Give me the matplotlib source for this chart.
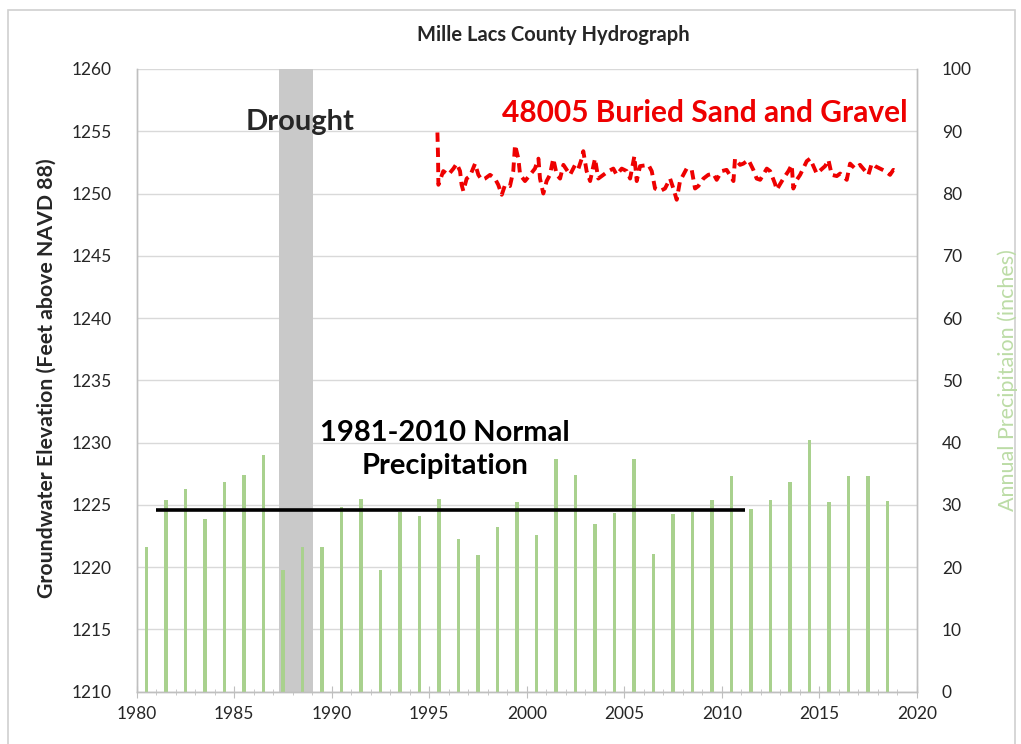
import numpy as np
import matplotlib
matplotlib.use('Agg')
import matplotlib.pyplot as plt
from matplotlib.patches import Rectangle
from matplotlib.ticker import MultipleLocator

plt.rcParams['font.family'] = ['Lato', 'DejaVu Sans']

# annual precipitation (inches), one bar per year plotted mid-year
precip_years = np.arange(1980, 2019)
precip = [23.3, 30.8, 32.5, 27.8, 33.7, 34.8, 38.0, 19.6, 23.3, 23.2,
          29.7, 30.9, 19.5, 28.8, 28.2, 30.9, 24.5, 21.9, 26.5, 30.4,
          25.2, 37.3, 34.8, 26.9, 28.7, 37.4, 22.1, 28.5, 28.8, 30.8,
          34.7, 29.3, 30.8, 33.7, 40.4, 30.4, 34.6, 34.6, 30.7]

# well 48005 water levels (ft above NAVD 88)
well_dates = [1995.42, 1995.45, 1995.47, 1995.72, 1995.98, 1996.24, 1996.41, 1996.58, 1996.66, 1996.75,
              1996.92, 1997.09, 1997.35, 1997.52, 1997.69, 1997.86, 1998.12, 1998.37, 1998.54, 1998.72,
              1998.89, 1999.14, 1999.31, 1999.40, 1999.57, 1999.66, 1999.91, 2000.17, 2000.42, 2000.60,
              2000.68, 2000.85, 2001.02, 2001.19, 2001.36, 2001.54, 2001.71, 2001.88, 2002.05, 2002.22,
              2002.48, 2002.65, 2002.82, 2002.90, 2003.07, 2003.25, 2003.50, 2003.67, 2003.93, 2004.19,
              2004.44, 2004.61, 2004.87, 2005.13, 2005.30, 2005.52, 2005.64, 2005.81, 2006.24, 2006.41,
              2006.58, 2006.84, 2007.09, 2007.35, 2007.52, 2007.69, 2007.86, 2008.20, 2008.46, 2008.63,
              2008.80, 2009.06, 2009.31, 2009.57, 2009.74, 2010.00, 2010.25, 2010.60, 2010.68, 2010.94,
              2011.11, 2011.37, 2011.62, 2011.79, 2011.97, 2012.31, 2012.48, 2012.73, 2012.82, 2013.16,
              2013.42, 2013.59, 2013.67, 2013.85, 2014.02, 2014.36, 2014.53, 2014.70, 2014.87, 2015.30,
              2015.47, 2015.64, 2015.90, 2016.07, 2016.41, 2016.58, 2016.84, 2017.09, 2017.52, 2017.69,
              2017.86, 2018.12, 2018.38, 2018.63, 2018.80, 2018.97]
well_levels = [1254.9, 1253.1, 1250.7, 1251.8, 1251.5, 1252.0, 1252.4, 1251.8, 1250.7, 1250.2,
               1251.2, 1251.4, 1252.4, 1251.5, 1251.1, 1251.2, 1251.5, 1251.2, 1250.7, 1249.9,
               1250.7, 1250.6, 1251.8, 1253.9, 1252.8, 1251.5, 1251.0, 1251.5, 1252.0, 1252.8,
               1251.2, 1250.0, 1251.0, 1251.5, 1252.8, 1251.5, 1251.2, 1252.3, 1251.9, 1251.5,
               1252.3, 1252.0, 1252.8, 1253.4, 1251.8, 1251.0, 1252.8, 1251.2, 1251.5, 1251.8,
               1252.0, 1251.5, 1252.0, 1251.8, 1251.2, 1253.0, 1251.0, 1252.2, 1252.3, 1251.8,
               1250.4, 1250.2, 1250.4, 1251.2, 1250.4, 1249.5, 1251.0, 1252.0, 1251.9, 1250.4,
               1250.6, 1251.2, 1251.5, 1251.6, 1251.1, 1251.8, 1251.9, 1251.0, 1252.8, 1252.3,
               1252.4, 1252.7, 1251.9, 1251.2, 1251.1, 1252.0, 1251.8, 1250.8, 1250.3, 1251.2,
               1251.8, 1252.3, 1250.4, 1251.1, 1251.5, 1252.6, 1252.8, 1252.2, 1251.6, 1252.2,
               1252.7, 1251.5, 1251.4, 1251.6, 1251.1, 1252.4, 1252.0, 1252.3, 1251.5, 1252.4,
               1252.2, 1252.0, 1251.8, 1251.5, 1251.9, 1251.8]

normal_period = [1981, 2011.2]
normal_precip = 29.1
drought_period = [1987.3, 1989.05]

green = '#a9d18e'
grid_gray = '#d9d9d9'
spine_gray = '#bfbfbf'
text_col = '#262626'

fig = plt.figure(figsize=(10.21, 7.44), dpi=100)
ax = fig.add_axes([0.1339, 0.0703, 0.7640, 0.8370])
ax2 = ax.twinx()

# chart border
fig.patches.append(Rectangle((0.008, -0.01), 0.986, 0.997, transform=fig.transFigure,
                             fill=False, edgecolor='#d0d0d0', linewidth=1.2))

ax.axvspan(drought_period[0], drought_period[1], color='#c9c9c9', zorder=1, linewidth=0)
ax.plot(well_dates, well_levels, color='#ee0000', linewidth=2.8, dashes=(2.4, 1.5), zorder=3)

ax2.bar(precip_years + 0.5, precip, width=0.16, color=green, zorder=2)
ax2.hlines(normal_precip, normal_period[0], normal_period[1], color='black', linewidth=2.6, zorder=3)

ax.set_xlim(1980, 2020)
ax.set_ylim(1210, 1260)
ax2.set_ylim(0, 100)
ax.xaxis.set_major_locator(MultipleLocator(5))
ax.xaxis.set_minor_locator(MultipleLocator(1))
ax.yaxis.set_major_locator(MultipleLocator(5))
ax2.yaxis.set_major_locator(MultipleLocator(10))

ax.grid(axis='y', color=grid_gray, linewidth=1.0, zorder=0)
ax.set_axisbelow(True)

for a in (ax, ax2):
    a.spines['top'].set_visible(False)
    for s in ('left', 'right', 'bottom'):
        a.spines[s].set_color(spine_gray)
        a.spines[s].set_linewidth(1.0)

ax.tick_params(axis='x', which='major', direction='inout', length=8, color=spine_gray,
               labelsize=12.5, labelcolor=text_col, pad=6)
ax.tick_params(axis='x', which='minor', direction='inout', length=5, color=spine_gray)
ax.tick_params(axis='y', length=0, labelsize=12.5, labelcolor=text_col, pad=18)
ax2.tick_params(axis='y', length=0, labelsize=12.5, labelcolor=text_col, pad=18)

fig.text(0.5416, 0.953, 'Mille Lacs County Hydrograph', ha='center', va='center',
         fontsize=14.5, fontweight='bold', color=text_col)
fig.text(0.046, 0.492, 'Groundwater Elevation (Feet above NAVD 88)', rotation=90,
         ha='center', va='center', fontsize=15.3, fontweight='bold', color=text_col)
fig.text(0.987, 0.489, 'Annual Precipitaion (inches)', rotation=90,
         ha='center', va='center', fontsize=15.5, color='#bcdca6')

ax.text(1988.37, 1255.76, 'Drought', ha='center', va='center', fontsize=21,
        fontweight='bold', color=text_col, zorder=5)
ax.text(2009.14, 1256.5, '48005 Buried Sand and Gravel', ha='center', va='center',
        fontsize=21.5, fontweight='bold', color='#ee0000', zorder=5)
ax.text(1995.8, 1229.45, '1981-2010 Normal\nPrecipitation', ha='center', va='center',
        fontsize=21, fontweight='bold', color='black', linespacing=1.35, zorder=5)

fig.savefig('out.png', dpi=100)
